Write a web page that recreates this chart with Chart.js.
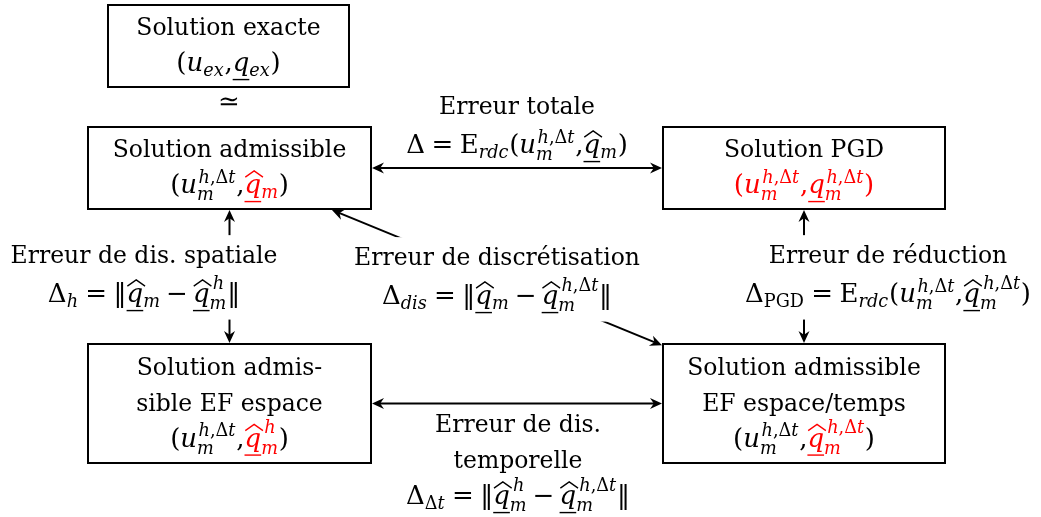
<!DOCTYPE html>
<html>
<head>
<meta charset="utf-8">
<script src="https://cdn.jsdelivr.net/npm/chart.js@4.4.1/dist/chart.umd.min.js"></script>
<style>
  html, body { margin: 0; padding: 0; background: #fff; }
  #diagram { display: block; }
</style>
</head>
<body>
<canvas id="diagram" width="1041" height="517"></canvas>
<script>
// ---- diagram content ----
const nodeNames = ['exacte', 'admissible', 'pgd', 'efEspace', 'efEspaceTemps'];
const nodeLines = [
  ['Solution exacte', '$(u_{ex},\\ul{q}_{ex})'],
  ['Solution admissible', '$(u_m^{h,Δt},\\red{\\hat{\\ul{q}}_m})'],
  ['Solution PGD', '$\\red{(u_m^{h,Δt},\\ul{q}_m^{h,Δt})}'],
  ['Solution admis-', 'sible EF espace', '$(u_m^{h,Δt},\\red{\\hat{\\ul{q}}_m^h})'],
  ['Solution admissible', 'EF espace/temps', '$(u_m^{h,Δt},\\red{\\hat{\\ul{q}}_m^{h,Δt}})']
];
// node centres / sizes in diagram units
const nodeX = [228.5, 229.5, 804, 229.5, 804];
const nodeY = [46, 168, 168, 403.5, 403.5];
const nodeW = [241, 283, 282, 283, 282];
const nodeH = [82, 82, 82, 119, 119];

// double arrows between nodes
const edgeFrom = [1, 1, 2, 1, 3];
const edgeTo = [2, 3, 4, 4, 4];

const labelLines = [
  ['$≃'],
  ['Erreur totale', '$Δ=\\rm{E}_{rdc}(u_m^{h,Δt},\\hat{\\ul{q}}_m)'],
  ['Erreur de dis. spatiale', '$Δ_h=‖\\hat{\\ul{q}}_m−\\hat{\\ul{q}}_m^h‖'],
  ['Erreur de discrétisation', '$Δ_{dis}=‖\\hat{\\ul{q}}_m−\\hat{\\ul{q}}_m^{h,Δt}‖'],
  ['Erreur de réduction', '$Δ_{\\rm{PGD}}=\\rm{E}_{rdc}(u_m^{h,Δt},\\hat{\\ul{q}}_m^{h,Δt})'],
  ['Erreur de dis.', 'temporelle', '$Δ_{Δt}=‖\\hat{\\ul{q}}_m^h−\\hat{\\ul{q}}_m^{h,Δt}‖']
];
const labelX = [229, 517, 144, 497, 888, 518];
const labelY = [110, 114, 263, 265, 263, 432];
const labelGap = [0, 39, 39, 39, 39, 36];
const labelMask = [false, false, true, true, true, false];

const FONT = '"DejaVu Serif", "DejaVu Sans", serif';
const TEXT_SIZE = 23.5;
const MATH_SIZE = 26;
const RED = '#ff0000';

// ---- tiny math parser: _ ^ {} \hat \ul \rm \red ----
function parseMath(src) {
  let i = 0;
  function seq(inBrace, st) {
    const items = [];
    while (i < src.length) {
      const c = src[i];
      if (c === '}') { i++; if (inBrace) return items; continue; }
      if (c === '_' || c === '^') {
        i++;
        const a = arg(st);
        const last = items[items.length - 1];
        if (c === '_') last.sub = a; else last.sup = a;
        continue;
      }
      items.push(atom(st));
    }
    return items;
  }
  function arg(st) {
    if (src[i] === '{') { i++; return { kind: 'group', items: seq(true, st) }; }
    return atom(st);
  }
  function atom(st) {
    const c = src[i];
    if (c === '{') { i++; return { kind: 'group', items: seq(true, st) }; }
    if (c === '\\') {
      let j = i + 1;
      while (j < src.length && /[a-z]/.test(src[j])) j++;
      const cmd = src.slice(i + 1, j);
      i = j;
      if (cmd === 'rm') return arg(Object.assign({}, st, { rm: true }));
      if (cmd === 'red') return arg(Object.assign({}, st, { red: true }));
      if (cmd === 'hat') return { kind: 'hat', body: arg(st), st: st };
      if (cmd === 'ul') return { kind: 'ul', body: arg(st), st: st };
    }
    i++;
    return { kind: 'char', ch: c, st: st };
  }
  return { kind: 'group', items: seq(false, { rm: false, red: false }) };
}

function layoutMath(ctx, node, size, top) {
  let b;
  if (node.kind === 'char') {
    const ch = node.ch, st = node.st;
    const italic = /[A-Za-z]/.test(ch) && !st.rm;
    const font = (italic ? 'italic ' : '') + size + 'px ' + FONT;
    ctx.font = font;
    const gw = ctx.measureText(ch).width;
    let pad = 0;
    if (top && ch === '=') pad = 0.25 * size;
    if (top && ch === '−') pad = 0.2 * size;
    b = {
      w: gw + 2 * pad,
      asc: (/[acegmnopqrsuvwxyz]/.test(ch) ? 0.53 : 0.76) * size,
      desc: /[gjpqy(),‖]/.test(ch) ? 0.24 * size : 0,
      italic: italic,
      draw(x, y) {
        ctx.font = font;
        ctx.fillStyle = st.red ? RED : '#000';
        ctx.textAlign = 'left';
        ctx.textBaseline = 'alphabetic';
        ctx.fillText(ch, x + pad, y);
      }
    };
  } else if (node.kind === 'group') {
    const parts = node.items.map(it => layoutMath(ctx, it, size, top));
    b = {
      w: parts.reduce((s, p) => s + p.w, 0),
      asc: Math.max(0, ...parts.map(p => p.asc)),
      desc: Math.max(0, ...parts.map(p => p.desc)),
      italic: parts.length ? parts[parts.length - 1].italic : false,
      accent: parts.length === 1 && parts[0].accent,
      draw(x, y) { let cx = x; parts.forEach(p => { p.draw(cx, y); cx += p.w; }); }
    };
  } else if (node.kind === 'hat') {
    const inner = layoutMath(ctx, node.body, size, top);
    const gap = 0.08 * size, hh = 0.24 * size;
    const skew = inner.italic ? 0.05 * size : 0;
    const col = node.st.red ? RED : '#000';
    b = {
      w: inner.w, asc: inner.asc + gap + hh, desc: inner.desc, italic: inner.italic, accent: true,
      draw(x, y) {
        inner.draw(x, y);
        const y0 = y - inner.asc - gap;
        ctx.strokeStyle = col;
        ctx.lineWidth = 0.05 * size;
        ctx.lineJoin = 'miter';
        ctx.beginPath();
        ctx.moveTo(x + skew - 0.02 * size, y0);
        ctx.lineTo(x + inner.w / 2 + skew, y0 - hh);
        ctx.lineTo(x + inner.w + skew + 0.02 * size, y0);
        ctx.stroke();
      }
    };
  } else {
    const inner = layoutMath(ctx, node.body, size, top);
    const uy = 0.33 * size;
    const col = node.st.red ? RED : '#000';
    b = {
      w: inner.w, asc: inner.asc, desc: Math.max(inner.desc, uy + 1), italic: inner.italic,
      accent: inner.accent,
      draw(x, y) {
        inner.draw(x, y);
        ctx.fillStyle = col;
        ctx.fillRect(x, y + uy - 0.7, inner.w, 1.4);
      }
    };
  }
  if (!node.sub && !node.sup) return b;

  const ss = size * 0.68;
  const sup = node.sup ? layoutMath(ctx, node.sup, ss, false) : null;
  const sub = node.sub ? layoutMath(ctx, node.sub, ss, false) : null;
  const supUp = Math.max(0.4 * size, b.asc - 0.34 * size);
  const subDown = sup ? 0.28 * size : 0.2 * size;
  const ic = b.accent ? 0.12 * size : (b.italic ? 0.06 * size : 0);
  return {
    w: b.w + Math.max(sup ? sup.w + ic : 0, sub ? sub.w : 0) + 0.03 * size,
    asc: Math.max(b.asc, sup ? supUp + sup.asc : 0),
    desc: Math.max(b.desc, sub ? subDown + sub.desc : 0),
    italic: false,
    draw(x, y) {
      b.draw(x, y);
      if (sup) sup.draw(x + b.w + ic, y - supUp);
      if (sub) sub.draw(x + b.w, y + subDown);
    }
  };
}

// measure one line (plain text or $math)
function layoutLine(ctx, line) {
  if (line[0] === '$') return layoutMath(ctx, parseMath(line.slice(1)), MATH_SIZE, true);
  const font = TEXT_SIZE + 'px ' + FONT;
  ctx.font = font;
  return {
    w: ctx.measureText(line).width, asc: 0.76 * TEXT_SIZE, desc: 0.24 * TEXT_SIZE,
    draw(x, y) {
      ctx.font = font;
      ctx.fillStyle = '#000';
      ctx.textAlign = 'left';
      ctx.textBaseline = 'alphabetic';
      ctx.fillText(line, x, y);
    }
  };
}

function drawHead(ctx, tipX, tipY, ux, uy) {
  const len = 12, half = 5.5, notch = 3.8;
  const px = -uy, py = ux;
  ctx.beginPath();
  ctx.moveTo(tipX, tipY);
  ctx.lineTo(tipX - ux * len + px * half, tipY - uy * len + py * half);
  ctx.lineTo(tipX - ux * (len - notch), tipY - uy * (len - notch));
  ctx.lineTo(tipX - ux * len - px * half, tipY - uy * len - py * half);
  ctx.closePath();
  ctx.fill();
}

const diagramPlugin = {
  id: 'diagram',
  afterDraw(chart) {
    const ctx = chart.ctx;
    const xs = chart.scales.x, ys = chart.scales.y;
    const sx = Math.abs(xs.getPixelForValue(1) - xs.getPixelForValue(0));
    const sy = Math.abs(ys.getPixelForValue(1) - ys.getPixelForValue(0));
    ctx.save();

    // boxes
    ctx.strokeStyle = '#000';
    ctx.lineWidth = 2;
    nodeNames.forEach((n, i) => {
      const l = xs.getPixelForValue(nodeX[i] - nodeW[i] / 2);
      const t = ys.getPixelForValue(nodeY[i] - nodeH[i] / 2);
      ctx.strokeRect(Math.round(l), Math.round(t), Math.round(nodeW[i] * sx), Math.round(nodeH[i] * sy));
    });

    // arrows: centre to centre, clipped at the box borders
    ctx.fillStyle = '#000';
    ctx.lineWidth = 2;
    edgeFrom.forEach((a, k) => {
      const b = edgeTo[k];
      const ax = xs.getPixelForValue(nodeX[a]), ay = ys.getPixelForValue(nodeY[a]);
      const bx = xs.getPixelForValue(nodeX[b]), by = ys.getPixelForValue(nodeY[b]);
      const dx = bx - ax, dy = by - ay;
      const clip = i => Math.min(
        dx ? (nodeW[i] * sx / 2 + 1) / Math.abs(dx) : Infinity,
        dy ? (nodeH[i] * sy / 2 + 1) / Math.abs(dy) : Infinity);
      const ta = clip(a), tb = 1 - clip(b);
      const x0 = ax + dx * ta, y0 = ay + dy * ta;
      const x1 = ax + dx * tb, y1 = ay + dy * tb;
      const L = Math.hypot(x1 - x0, y1 - y0);
      const ux = (x1 - x0) / L, uy = (y1 - y0) / L;
      ctx.beginPath();
      ctx.moveTo(x0 + ux * 7, y0 + uy * 7);
      ctx.lineTo(x1 - ux * 7, y1 - uy * 7);
      ctx.stroke();
      drawHead(ctx, x1, y1, ux, uy);
      drawHead(ctx, x0, y0, -ux, -uy);
    });

    // edge labels (white mask when sitting on an arrow)
    labelLines.forEach((lines, i) => {
      const cx = xs.getPixelForValue(labelX[i]);
      const y0 = ys.getPixelForValue(labelY[i]);
      const lay = lines.map(s => layoutLine(ctx, s));
      if (labelMask[i]) {
        const w = Math.max(...lay.map(p => p.w));
        const top = y0 - lay[0].asc - 10;
        const bot = y0 + (lines.length - 1) * labelGap[i] + lay[lay.length - 1].desc + 8;
        ctx.fillStyle = '#fff';
        ctx.fillRect(cx - w / 2 - 6, top, w + 12, bot - top);
      }
      lay.forEach((p, j) => p.draw(cx - p.w / 2, y0 + j * labelGap[i]));
    });

    // node texts
    nodeLines.forEach((lines, i) => {
      const cx = xs.getPixelForValue(nodeX[i]);
      const cy = ys.getPixelForValue(nodeY[i]);
      const gap = 36;
      const first = cy - (lines.length - 1) * gap / 2 + 7;
      lines.forEach((s, j) => {
        const p = layoutLine(ctx, s);
        p.draw(cx - p.w / 2, first + j * gap);
      });
    });
    ctx.restore();
  }
};

new Chart(document.getElementById('diagram').getContext('2d'), {
  type: 'scatter',
  data: {
    datasets: [{
      label: 'noeuds',
      data: nodeX.map((x, i) => ({ x: x, y: nodeY[i] })),
      pointRadius: 0
    }]
  },
  options: {
    responsive: false,
    animation: false,
    layout: { padding: 0 },
    scales: {
      x: { type: 'linear', min: 0, max: 1041, display: false },
      y: { type: 'linear', min: 0, max: 517, reverse: true, display: false }
    },
    plugins: {
      legend: { display: false },
      tooltip: { enabled: false }
    }
  },
  plugins: [diagramPlugin]
});
</script>
</body>
</html>
